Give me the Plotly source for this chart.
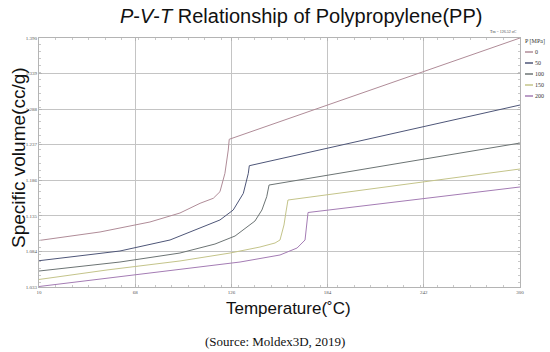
import plotly.graph_objects as go

# ---- data ----
pressures = ["0", "50", "100", "150", "200"]
colors = ["#b08c98", "#4e5678", "#6c7474", "#c4c48a", "#a47cb4"]

T_p0 = [10, 46.8, 76.9, 95.0, 107.1, 115.1, 119.1, 122.1, 124.1, 124.7, 300]
V_p0 = [1.0997, 1.1119, 1.1262, 1.1391, 1.1530, 1.1602, 1.1696, 1.1960, 1.2294, 1.2448, 1.3900]

T_p50 = [10, 58.8, 89.0, 107.1, 119.1, 127.1, 133.2, 136.2, 136.8, 300]
V_p50 = [1.0707, 1.0846, 1.1004, 1.1176, 1.1291, 1.1434, 1.1673, 1.1960, 1.2069, 1.2939]

T_p100 = [10, 58.8, 95.0, 116.1, 128.2, 133.0, 140.2, 144.4, 147.3, 148.7, 300]
V_p100 = [1.0559, 1.0688, 1.0817, 1.0946, 1.1061, 1.1147, 1.1276, 1.1434, 1.1625, 1.1792, 1.2394]

T_p150 = [10, 51.0, 95.0, 125.2, 143.2, 152.3, 155.3, 157.7, 158.9, 160.1, 300]
V_p150 = [1.0438, 1.0574, 1.0703, 1.0817, 1.0903, 1.0961, 1.1004, 1.1219, 1.1405, 1.1577, 1.2022]

T_p200 = [10, 93.2, 131.2, 155.3, 165.6, 170.4, 171.4, 172.2, 300]
V_p200 = [1.0337, 1.0574, 1.0688, 1.0789, 1.0889, 1.1004, 1.1194, 1.1398, 1.1764]

x_ticks = [10, 68, 126, 184, 242, 300]
y_ticks = [1.033, 1.084, 1.135, 1.186, 1.237, 1.288, 1.339, 1.390]
y_ticklabels = ["1.033", "1.084", "1.135", "1.186", "1.237", "1.288", "1.339", "1.390"]

series_T = [T_p0, T_p50, T_p100, T_p150, T_p200]
series_V = [V_p0, V_p50, V_p100, V_p150, V_p200]

fig = go.Figure()
for p, c, t, v in zip(pressures, colors, series_T, series_V):
    fig.add_trace(go.Scatter(x=t, y=v, mode="lines", name=p,
                             line=dict(color=c, width=1), showlegend=False))

W, H = 550, 352
L, R, TOP, B = 39, 30, 38, 65
PW, PH = W - L - R, H - TOP - B


def px(x):
    return (x - L) / PW


def py(y):
    return (H - B - y) / PH


fig.update_layout(
    width=W, height=H,
    margin=dict(l=L, r=R, t=TOP, b=B),
    paper_bgcolor="white", plot_bgcolor="white",
    font=dict(family="Liberation Sans, Arial", color="#222"),
)
axis_common = dict(
    tickfont=dict(size=5, family="Liberation Serif", color="#555"),
    showgrid=True, gridcolor="#c4c4c4", gridwidth=1,
    showline=True, linecolor="#b4b4b4", linewidth=1, mirror="allticks",
    ticks="inside", ticklen=3, tickcolor="#b4b4b4",
    minor=dict(nticks=10, ticks="inside", ticklen=2, tickcolor="#c8c8c8", showgrid=False),
    zeroline=False,
)
fig.update_xaxes(range=[10, 300], tickvals=x_ticks,
                 ticktext=[str(v) for v in x_ticks], **axis_common)
fig.update_yaxes(range=[1.033, 1.390], tickvals=y_ticks,
                 ticktext=y_ticklabels, **axis_common)

ann = []
ann.append(dict(text="<i>P</i>-<i>V</i>-<i>T</i> Relationship of Polypropylene(PP)",
                x=px(301), y=py(16), xref="paper", yref="paper",
                xanchor="center", yanchor="middle", showarrow=False,
                font=dict(size=20, family="Liberation Sans, Arial", color="#111")))
ann.append(dict(text="Specific volume(cc/g)", x=px(18), y=py(158),
                xref="paper", yref="paper", textangle=-90,
                xanchor="center", yanchor="middle", showarrow=False,
                font=dict(size=19, family="Liberation Sans, Arial", color="#111")))
ann.append(dict(text="Temperature(˚C)", x=px(288), y=py(308),
                xref="paper", yref="paper", xanchor="center", yanchor="middle",
                showarrow=False,
                font=dict(size=17, family="Liberation Sans, Arial", color="#111")))
ann.append(dict(text="(Source: Moldex3D, 2019)", x=px(275), y=py(341),
                xref="paper", yref="paper", xanchor="center", yanchor="middle",
                showarrow=False,
                font=dict(size=13, family="Liberation Serif, Times New Roman", color="#111")))
ann.append(dict(text="Tm = 126.52 oC", x=px(503), y=py(31),
                xref="paper", yref="paper", xanchor="center", yanchor="middle",
                showarrow=False,
                font=dict(size=4, family="Liberation Serif", color="#444")))
ann.append(dict(text="P [MPa]", x=px(523), y=py(41),
                xref="paper", yref="paper", xanchor="left", yanchor="middle",
                showarrow=False,
                font=dict(size=6, family="Liberation Serif", color="#333")))

shapes = []
legend_y = [52, 63, 74, 85, 96]
for p, c, ly in zip(pressures, colors, legend_y):
    shapes.append(dict(type="line", xref="paper", yref="paper",
                       x0=px(525), x1=px(533), y0=py(ly), y1=py(ly),
                       line=dict(color=c, width=1.5)))
    ann.append(dict(text=p, x=px(533), y=py(ly), xref="paper", yref="paper",
                    xanchor="left", yanchor="middle", showarrow=False,
                    font=dict(size=6, family="Liberation Serif", color="#333")))

fig.update_layout(annotations=ann, shapes=shapes)
fig.write_html("out.html", config={"displayModeBar": False},
               post_script="document.body.style.margin='0';document.body.style.padding='0';")
